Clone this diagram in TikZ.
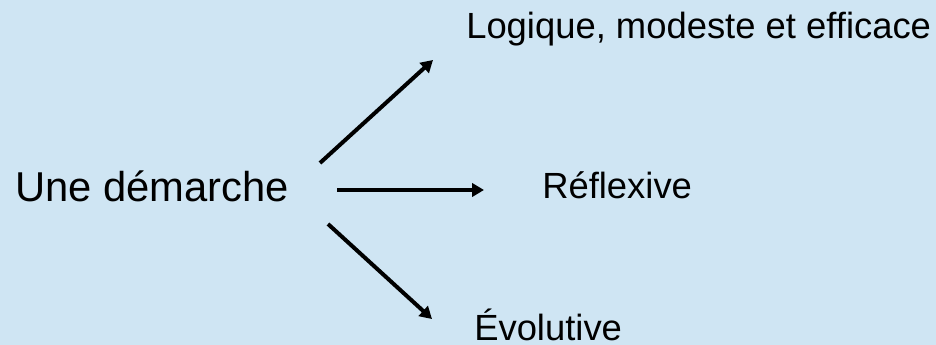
\documentclass[tikz,border=0pt]{standalone}
\usepackage{fontspec}
\setmainfont{Liberation Sans}
\usetikzlibrary{arrows.meta}
\definecolor{bgblue}{RGB}{207,229,243}
\begin{document}
\begin{tikzpicture}[x=0.75pt,y=-0.75pt,
  lbl/.style={anchor=base west,inner sep=0pt,font=\fontsize{27.3}{32}\selectfont},
  mainlbl/.style={anchor=base west,inner sep=0pt,font=\fontsize{31.3}{37}\selectfont},
  arr/.style={line width=3pt,-{Triangle[length=9pt,width=10pt]}}]
\fill[bgblue] (0,0) rectangle (936,345);
\useasboundingbox (0,0) rectangle (936,345);
\node[mainlbl] (src) at (15,202) {Une démarche};
\node[lbl] (t1) at (466,39) {Logique, modeste et efficace};
\node[lbl] (t2) at (542,199) {Réflexive};
\node[lbl] (t3) at (474,341) {Évolutive};
\coordinate (s1) at (320,163);
\coordinate (e1) at (433,60);
\coordinate (s2) at (337,190);
\coordinate (e2) at (484,190);
\coordinate (s3) at (328,224);
\coordinate (e3) at (432,319);
\draw[arr] (s1) -- (e1);
\draw[arr] (s2) -- (e2);
\draw[arr] (s3) -- (e3);
\end{tikzpicture}
\end{document}
